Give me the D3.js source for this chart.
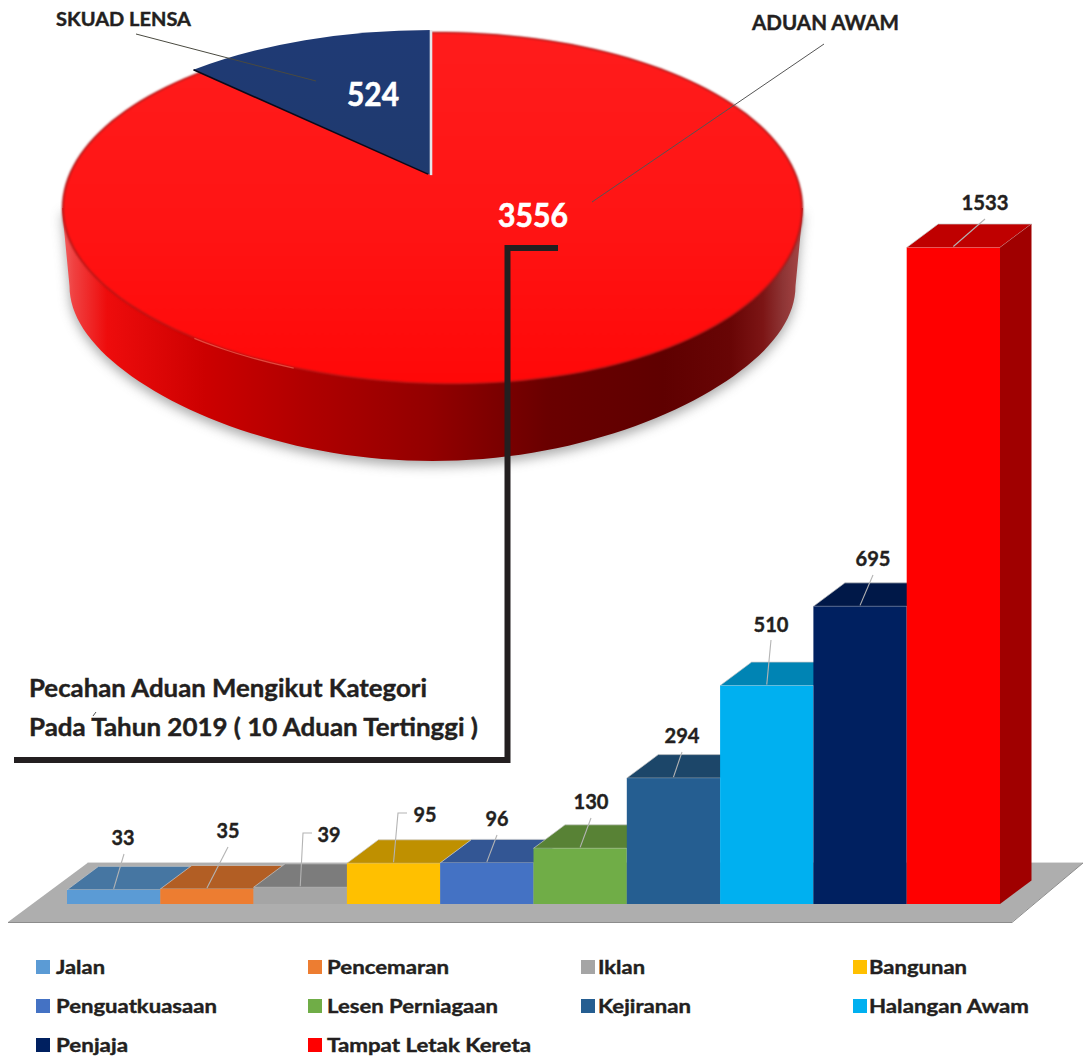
<!DOCTYPE html>
<html>
<head>
<meta charset="utf-8">
<script src="https://cdn.jsdelivr.net/npm/d3@7/dist/d3.min.js"></script>
<style>
html,body{margin:0;padding:0;background:#fff;overflow:hidden}
svg{display:block}
text{font-family:Lato,"Open Sans",sans-serif;font-weight:700;fill:#231F20;stroke:#231F20;stroke-width:.4px}
text.w{fill:#fff;stroke:#fff;stroke-width:.6px}
</style>
</head>
<body>
<svg id="c" width="1083" height="1057"></svg>
<script>
// ---- data ----
const pieNames = ["ADUAN AWAM", "SKUAD LENSA"];
const pieValues = [3556, 524];
const categories = ["Jalan","Pencemaran","Iklan","Bangunan","Penguatkuasaan","Lesen Perniagaan","Kejiranan","Halangan Awam","Penjaja","Tampat Letak Kereta"];
const values = [33,35,39,95,96,130,294,510,695,1533];
const frontColors = ["#5B9BD5","#ED7D31","#A5A5A5","#FFC000","#4472C4","#70AD47","#255E91","#00B0F0","#002060","#FF0000"];
const topColors = ["#4676A2","#B25E24","#7C7C7C","#BF9000","#335694","#588235","#1C4669","#0084B4","#001848","#BF0000"];
const titleLines = ["Pecahan Aduan Mengikut Kategori","Pada Tahun 2019 ( 10 Aduan Tertinggi )"];

// ---- layout of value labels (centre x, baseline y, optional elbow run) ----
const labelX = [123,228,329,425,497,591,682,771,873,985];
const labelY = [845,838,842,822,826,809,743,632,566,210];
const leaderStart = [[124,854],[228,847],[312,833],[407,813],[497,835],[591,818],[682,752],[771,640],[873,575],[985,219]];
const leaderElbow = [null,null,[303,833],[398,813],null,null,null,null,null,null];
const labelW = [23,23,23,23,23,35,35,35,35,47];
const legendTextW = [49,122,47,98,161,171,93,160,72,204];

const svg = d3.select("#c");
const defs = svg.append("defs");

// ---- gradients and filters ----
const sideStops = [[62,"#f26060"],[74,"#f04040"],[107,"#ee0c0c"],[206,"#cc0000"],[306,"#b00000"],[430,"#930000"],[547,"#6a0000"],[663,"#5f0000"],[730,"#680505"],[763,"#7c1515"],[783,"#8e3535"],[803,"#a84848"]];
const sideGrad = defs.append("linearGradient").attr("id","side").attr("gradientUnits","userSpaceOnUse")
  .attr("x1",62).attr("x2",803).attr("y1",0).attr("y2",0);
sideGrad.selectAll("stop").data(sideStops).join("stop")
  .attr("offset",d=>(d[0]-62)/741).attr("stop-color",d=>d[1]);
const face = defs.append("linearGradient").attr("id","face").attr("x1",0).attr("x2",0).attr("y1",0).attr("y2",1);
face.append("stop").attr("offset",0).attr("stop-color","#FF1C1C");
face.append("stop").attr("offset",.55).attr("stop-color","#FF1414");
face.append("stop").attr("offset",1).attr("stop-color","#FF0808");
const navy = defs.append("linearGradient").attr("id","navy").attr("x1",0).attr("x2",0).attr("y1",0).attr("y2",1);
navy.append("stop").attr("offset",0).attr("stop-color","#1F3A75");
navy.append("stop").attr("offset",1).attr("stop-color","#1F3A6E");
[["b05",.6],["b1",1],["b6",6]].forEach(([id,s])=>{
  defs.append("filter").attr("id",id).attr("filterUnits","userSpaceOnUse")
    .attr("x",0).attr("y",0).attr("width",1083).attr("height",1057)
    .attr("color-interpolation-filters","sRGB")
    .append("feGaussianBlur").attr("stdDeviation",s);
});

// ---- pie disc outlines: ellipses with a slight smooth skew for the lens distortion ----
const rad = d3.scaleLinear().domain([0,360]).range([0,2*Math.PI]);
function edge(e,deg){
  const t=rad(deg), c=Math.cos(t), s=Math.sin(t);
  const k = s<0 ? e.kUp : e.kLow;
  return [e.cx+e.rx*c, e.cy+e.ry*s+k*c*s+e.q*c*c*Math.max(s,0)];
}
const topE = {cx:432.5, cy:208, rx:370.5, ry:176, kUp:2, kLow:9, q:0};
const botE = {cx:432.5, cy:286, rx:363, ry:175, kUp:0, kLow:0, q:-20};
const line = d3.line();
const facePts = d3.range(0,360,2).map(a=>edge(topE,a));
const inner = {...topE, rx:topE.rx-1.5, ry:topE.ry-1};
const innerPts = d3.range(0,360,2).map(a=>edge(inner,a));
const sideD = line([[topE.cx+topE.rx,topE.cy]].concat(d3.range(0,181,2).map(a=>edge(botE,a)),[[topE.cx-topE.rx,topE.cy]]))+"Z";

svg.append("path").attr("d",sideD).attr("fill","#555").attr("opacity",.5)
  .attr("transform","translate(0,5)").attr("filter","url(#b6)");
svg.append("path").attr("d",sideD).attr("fill","url(#side)").attr("filter","url(#b05)");
svg.append("path").attr("d",line(facePts)+"Z").attr("fill","#A81818").attr("filter","url(#b1)");
svg.append("path").attr("d",line(innerPts)+"Z").attr("fill","url(#face)").attr("filter","url(#b1)");
// rim highlight on the near-left edge
svg.append("path").attr("d",line(d3.range(112,131,2).map(a=>edge(topE,a))))
  .attr("fill","none").attr("stroke","#FF7A66").attr("stroke-width",1.2)
  .attr("opacity",.55).attr("filter","url(#b05)");

// perspective projection of the unit circle keeps it an ellipse but shifts the centre
const pieGeo = {cx:431, cy:207, rx:376, ry:177, e:-0.18};
function project(a){
  const X=Math.sin(a), Y=-Math.cos(a), e=pieGeo.e, w=1+e*Y;
  return [pieGeo.cx+pieGeo.rx*X*Math.sqrt(1-e*e)/w, pieGeo.cy+pieGeo.ry*(Y+e)/w];
}
const arcs = d3.pie().sort(null)(pieValues);
const apex = [pieGeo.cx, pieGeo.cy+pieGeo.ry*pieGeo.e];
const sl = arcs[1];
const pS = project(sl.startAngle), pE = project(sl.endAngle);
svg.append("path")
  .attr("d",`M${apex} L${pS} A${pieGeo.rx},${pieGeo.ry} 0 0 1 ${pE} Z`)
  .attr("fill","url(#navy)");
svg.append("line").attr("x1",apex[0]-3).attr("y1",apex[1]-1).attr("x2",pS[0]).attr("y2",pS[1])
  .attr("stroke","#0a0a1a").attr("stroke-width",1.6);
svg.append("line").attr("x1",pE[0]).attr("y1",pE[1]).attr("x2",apex[0]).attr("y2",apex[1])
  .attr("stroke","#E4E6EA").attr("stroke-width",2.6);

// pie leader lines
svg.append("line").attr("x1",136).attr("y1",34).attr("x2",316).attr("y2",81).attr("stroke","#4a4a40").attr("stroke-width",1);
svg.append("line").attr("x1",824).attr("y1",44).attr("x2",592).attr("y2",202).attr("stroke","#555").attr("stroke-width",1);

function fit(sel,w){ return sel.attr("textLength",w).attr("lengthAdjust","spacingAndGlyphs"); }
fit(svg.append("text").attr("x",56).attr("y",26).attr("font-size",18).text(pieNames[1]),135);
fit(svg.append("text").attr("x",752).attr("y",30).attr("font-size",20).text(pieNames[0]),147);
fit(svg.append("text").attr("class","w").attr("x",347).attr("y",106).attr("font-size",32).text(pieValues[1]),52);
fit(svg.append("text").attr("class","w").attr("x",498).attr("y",227).attr("font-size",32).text(pieValues[0]),70);

// ---- connector ----
svg.append("path").attr("d","M558,248 H507.5 V760 H14").attr("fill","none")
  .attr("stroke","#231F20").attr("stroke-width",6);

// ---- title ----
fit(svg.append("text").attr("x",29).attr("y",697).attr("font-size",24).text(titleLines[0]),398);
fit(svg.append("text").attr("x",29).attr("y",736).attr("font-size",24).text(titleLines[1]),449);
svg.append("path").attr("d","M93,716 L96,712").attr("stroke","#555").attr("stroke-width",1).attr("fill","none");

// ---- floor ----
svg.append("path").attr("d","M87.5,862 H1083 L1083,864 H87.5 Z").attr("fill","#DCDCDC");
svg.append("path").attr("d","M8,922 H1012 L1083,863 H87.5 Z").attr("fill","#AEAEAE");
svg.append("line").attr("x1",8).attr("y1",922.5).attr("x2",1012).attr("y2",922.5).attr("stroke","#8C8C8C").attr("stroke-width",1);
svg.append("line").attr("x1",1012).attr("y1",922.5).attr("x2",1083).attr("y2",863).attr("stroke","#8C8C8C").attr("stroke-width",1);

// ---- bars ----
const x = d3.scaleBand().domain(categories).range([67,1000]).padding(0);
const y = d3.scaleLinear().domain([0,1533]).range([904,247.5]);
const depth = {dx:31.5, dy:-23.5};
const bars = svg.append("g").selectAll("g").data(categories).join("g");
const outline = "#C8C8C8";
bars.append("path")
  .attr("d",(c,i)=>{const x0=x(c),w=x.bandwidth(),t=y(values[i]);
    return `M${x0},${t} L${x0+depth.dx},${t+depth.dy} H${x0+w+depth.dx} L${x0+w},${t} Z`;})
  .attr("fill",(c,i)=>topColors[i]).attr("stroke",outline).attr("stroke-width",.7);
bars.append("rect")
  .attr("x",c=>x(c)).attr("y",(c,i)=>y(values[i]))
  .attr("width",x.bandwidth()).attr("height",(c,i)=>y(0)-y(values[i]))
  .attr("fill",(c,i)=>frontColors[i]);
// right wall of the last bar
const lastC = categories[categories.length-1], lastV = values[values.length-1];
const xr = x(lastC)+x.bandwidth();
svg.append("path")
  .attr("d",`M${xr},${y(0)} L${xr+depth.dx},${y(0)+depth.dy} V${y(lastV)+depth.dy} L${xr},${y(lastV)} Z`)
  .attr("fill","#A00000");

// ---- value labels & leaders ----
values.forEach((v,i)=>{
  const c=categories[i], end=[x(c)+x.bandwidth()/2, y(v)-1];
  const pts=[leaderStart[i]]; if(leaderElbow[i]) pts.push(leaderElbow[i]); pts.push(end);
  svg.append("path").attr("d",d3.line()(pts)).attr("fill","none").attr("stroke","#B4B4B4").attr("stroke-width",1.1);
  fit(svg.append("text").attr("x",labelX[i]-labelW[i]/2).attr("y",labelY[i]).attr("font-size",20).text(v),labelW[i]);
});

// ---- legend ----
const legendCols=[36,308,581,853], legendTextCols=[56,327,598,869], legendRows=[967,1006,1045];
categories.forEach((c,i)=>{
  const col=i%4,row=Math.floor(i/4);
  svg.append("rect").attr("x",legendCols[col]).attr("y",legendRows[row]-7).attr("width",14).attr("height",14).attr("fill",frontColors[i]);
  fit(svg.append("text").attr("x",legendTextCols[col]).attr("y",legendRows[row]+6.5).attr("font-size",19).text(c),legendTextW[i]);
});
</script>
</body>
</html>
